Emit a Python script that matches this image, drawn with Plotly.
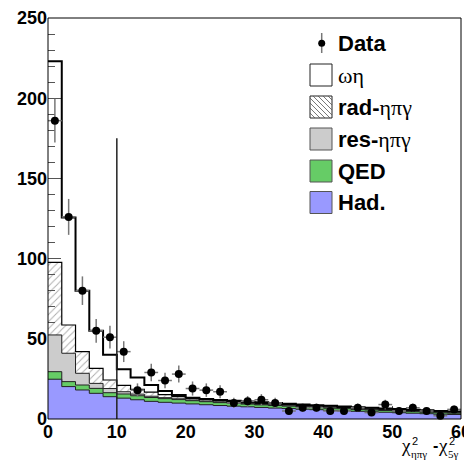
import numpy as np
import plotly.graph_objects as go

# ---------------- data (bin width 2, range 0..60) ----------------
bin_edges = list(range(0, 62, 2))
had = [24.8, 20.2, 18.1, 16.0, 13.9, 13.0, 12.0, 11.0, 10.4, 9.9, 9.4, 8.9, 8.4, 8.0, 7.6,
       7.2, 6.8, 6.5, 6.1, 5.8, 5.4, 5.1, 4.8, 4.5, 4.2, 3.9, 3.6, 3.3, 3.0, 2.8]
qed = [4.7, 3.1, 3.1, 3.1, 2.5, 2.6, 2.5, 2.4, 2.3, 2.2, 2.0, 1.9, 1.8, 1.8, 1.7,
       1.6, 1.6, 1.5, 1.4, 1.4, 1.3, 1.3, 1.2, 1.1, 1.1, 1.0, 1.0, 0.9, 0.9, 0.8]
res_etapigamma = [22.9, 17.7, 7.3, 3.1, 2.6, 1.4, 1.0, 0.8, 0.6, 0.5, 0.4, 0.4, 0.4, 0.3, 0.3,
                  0.3, 0.3, 0.3, 0.3, 0.2, 0.2, 0.2, 0.2, 0.2, 0.2, 0.2, 0.2, 0.2, 0.2, 0.2]
rad_etapigamma = [45.3, 17.6, 13.5, 9.4, 5.3, 4.0, 3.0, 2.6, 1.9, 1.4, 0.9, 0.8, 0.7, 0.7, 0.7,
                  0.7, 0.7, 0.6, 0.6, 0.6, 0.6, 0.5, 0.5, 0.5, 0.5, 0.5, 0.4, 0.4, 0.4, 0.4]
omega_eta = [125.3, 67.0, 38.0, 23.4, 15.7, 10.0, 7.3, 4.4, 2.3, 1.0, 0.5, 0.5, 0.5, 0.5, 0.6,
             0.6, 0.6, 0.6, 0.6, 0.6, 0.7, 0.7, 0.7, 0.7, 0.6, 0.6, 0.6, 0.6, 0.5, 0.4]
data = [186, 126, 80, 55, 51, 42, 18, 29, 24, 28, 19, 18, 17, 10, 11,
        12, 10, 5, 7, 7, 5, 5, 7, 4, 9, 5, 7, 5, 2, 6]
data_err = [13.6, 11.2, 8.9, 7.4, 7.1, 6.5, 4.2, 5.4, 4.9, 5.3, 4.4, 4.2, 4.1, 3.2, 3.3,
            3.5, 3.2, 2.2, 2.6, 2.6, 2.2, 2.2, 2.6, 2.0, 3.0, 2.2, 2.6, 2.2, 1.4, 2.4]
cut_x = 10
cut_height = 175
x_ticks = [0, 10, 20, 30, 40, 50, 60]
y_ticks = [0, 50, 100, 150, 200, 250]

# ---------------- figure geometry ----------------
W, H = 464, 462
L, R, T, B = 48, 3, 18, 43
PW, PH = W - L - R, H - T - B


def px(x):
    return (x - L) / PW


def py(y):
    return (H - B - y) / PH


edges = np.array(bin_edges, dtype=float)
centers = (edges[:-1] + edges[1:]) / 2
half_w = (edges[1] - edges[0]) / 2

# stacked tops (stack across components, bin by bin)
c_had = np.array(had)
c_qed = c_had + np.array(qed)
c_res = c_qed + np.array(res_etapigamma)
c_rad = c_res + np.array(rad_etapigamma)
c_tot = c_rad + np.array(omega_eta)


def step_y(vals):
    v = list(vals)
    return v + [v[-1]]


fig = go.Figure()

# total (omega eta) outline, hollow
fig.add_trace(go.Scatter(x=edges, y=step_y(c_tot), mode="lines", line=dict(shape="hv", color="black", width=2),
                         showlegend=False, hoverinfo="skip"))
# rad: hatched
fig.add_trace(go.Scatter(x=edges, y=step_y(c_rad), mode="lines", line=dict(shape="hv", color="black", width=1.2),
                         fill="tozeroy", fillcolor="rgba(0,0,0,0)",
                         fillpattern=dict(shape="/", fgcolor="#555", bgcolor="rgba(0,0,0,0)", size=5, solidity=0.18),
                         showlegend=False, hoverinfo="skip"))
fig.add_trace(go.Scatter(x=edges, y=step_y(c_res), mode="lines", line=dict(shape="hv", color="#222", width=1),
                         fill="tozeroy", fillcolor="#cccccc", showlegend=False, hoverinfo="skip"))
fig.add_trace(go.Scatter(x=edges, y=step_y(c_qed), mode="lines", line=dict(shape="hv", color="#222", width=1),
                         fill="tozeroy", fillcolor="#66cc66", showlegend=False, hoverinfo="skip"))
fig.add_trace(go.Scatter(x=edges, y=step_y(c_had), mode="lines", line=dict(shape="hv", color="#222", width=1),
                         fill="tozeroy", fillcolor="#9999ff", showlegend=False, hoverinfo="skip"))
# data
fig.add_trace(go.Scatter(x=centers, y=data, mode="markers",
                         marker=dict(color="black", size=8),
                         error_y=dict(type="data", array=data_err, color="#777", thickness=1.5, width=0),
                         error_x=dict(type="constant", value=half_w, color="#777", thickness=1.5, width=0),
                         showlegend=False, hoverinfo="skip", cliponaxis=False))

shapes = []
# cut line
shapes.append(dict(type="line", xref="x", yref="y", x0=cut_x, x1=cut_x, y0=0, y1=cut_height,
                   line=dict(color="#222", width=1.5), layer="above"))
# frame
shapes.append(dict(type="rect", xref="paper", yref="paper", x0=0, x1=1, y0=0, y1=1,
                   line=dict(color="black", width=1), layer="above"))

# ---------------- legend (manual) ----------------
SANS = "Liberation Sans, Arial, Helvetica, sans-serif"
SERIF = "Liberation Serif, Times New Roman, serif"
bx0, bx1 = 310, 332
rows = [
    ("<span style='font-family:Liberation Serif'>ωη</span>", "white", "#222", False, 75),
    ("<b>rad-</b><span style='font-family:Liberation Serif'>ηπγ</span>", "white", "#222", True, 107),
    ("<b>res-</b><span style='font-family:Liberation Serif'>ηπγ</span>", "#cccccc", "#555", False, 139),
    ("<b>QED</b>", "#66cc66", "#555", False, 171),
    ("<b>Had.</b>", "#9999ff", "#555", False, 202.5),
]
annotations = []
for label, fc, lc, hatch, cy in rows:
    y0, y1 = cy - 11, cy + 11
    shapes.append(dict(type="rect", xref="paper", yref="paper", x0=px(bx0), x1=px(bx1), y0=py(y1), y1=py(y0),
                       fillcolor=fc, line=dict(color=lc, width=1), layer="above"))
    if hatch:
        s = 5
        w, h = bx1 - bx0, y1 - y0
        segs = []
        k = s
        while k < w + h:
            u0 = max(0, k - h)
            v0 = k - u0
            u1 = min(w, k)
            v1 = k - u1
            xa, ya = bx0 + u0, y1 - v0
            xb, yb = bx0 + u1, y1 - v1
            segs.append(f"M{px(xa):.5f},{py(ya):.5f}L{px(xb):.5f},{py(yb):.5f}")
            k += s
        shapes.append(dict(type="path", xref="paper", yref="paper", path="".join(segs),
                           line=dict(color="#555", width=0.8), layer="above"))
    annotations.append(dict(xref="paper", yref="paper", x=px(336), y=py(cy), xanchor="left", yanchor="middle",
                            text=label, showarrow=False, font=dict(family=SANS, size=22, color="black")))

# Data legend entry
dcx, dcy = 321.7, 43.3
shapes.append(dict(type="line", xref="paper", yref="paper", x0=px(dcx), x1=px(dcx), y0=py(53), y1=py(33),
                   line=dict(color="#777", width=1.5), layer="above"))
shapes.append(dict(type="circle", xref="paper", yref="paper", x0=px(dcx - 3.5), x1=px(dcx + 3.5),
                   y0=py(dcy + 3.5), y1=py(dcy - 3.5), fillcolor="black", line=dict(color="black", width=0),
                   layer="above"))
annotations.append(dict(xref="paper", yref="paper", x=px(336), y=py(dcy), xanchor="left", yanchor="middle",
                        text="<b>Data</b>", showarrow=False, font=dict(family=SANS, size=22, color="black")))


# ---------------- x-axis title: chi2_(eta pi gamma) - chi2_(5 gamma) ----------------
def ann(text, x, y, fam, size):
    annotations.append(dict(xref="paper", yref="paper", x=px(x), y=py(y), xanchor="left", yanchor="middle",
                            text=text, showarrow=False, font=dict(family=fam, size=size, color="black"),
                            borderpad=0))


ann("χ", 400, 445, SERIF, 19)
ann("2", 411, 441, SANS, 11)
ann("ηπγ", 410, 454, SERIF, 11)
ann("<b>-</b>", 432, 445, SANS, 16)
ann("χ", 437, 445, SERIF, 19)
ann("2", 448, 441, SANS, 11)
ann("5γ", 447, 454, SERIF, 11)

fig.update_layout(
    width=W, height=H,
    margin=dict(l=L, r=R, t=T, b=B, pad=0, autoexpand=False),
    paper_bgcolor="white", plot_bgcolor="white",
    shapes=shapes, annotations=annotations,
    showlegend=False,
)
fig.update_xaxes(range=[0, 60], tickvals=x_ticks, ticks="inside", ticklen=13, tickwidth=1, tickcolor="#555",
                 minor=dict(dtick=2, ticklen=7, ticks="inside", tickcolor="#555"),
                 showgrid=False, zeroline=False, showline=False, layer="below traces", automargin=False,
                 ticklabeloverflow="allow",
                 tickfont=dict(family=SANS, size=18, color="black", weight="bold"))
fig.update_yaxes(range=[0, 250], tickvals=y_ticks, ticks="inside", ticklen=13, tickwidth=1, tickcolor="#555",
                 minor=dict(dtick=10, ticklen=7, ticks="inside", tickcolor="#555"),
                 showgrid=False, zeroline=False, showline=False, layer="below traces", automargin=False,
                 ticklabeloverflow="allow",
                 tickfont=dict(family=SANS, size=18, color="black", weight="bold"))

fig.write_html("out.html", config={"displayModeBar": False},
               post_script="document.body.style.margin='0px';document.body.style.overflow='hidden';")
